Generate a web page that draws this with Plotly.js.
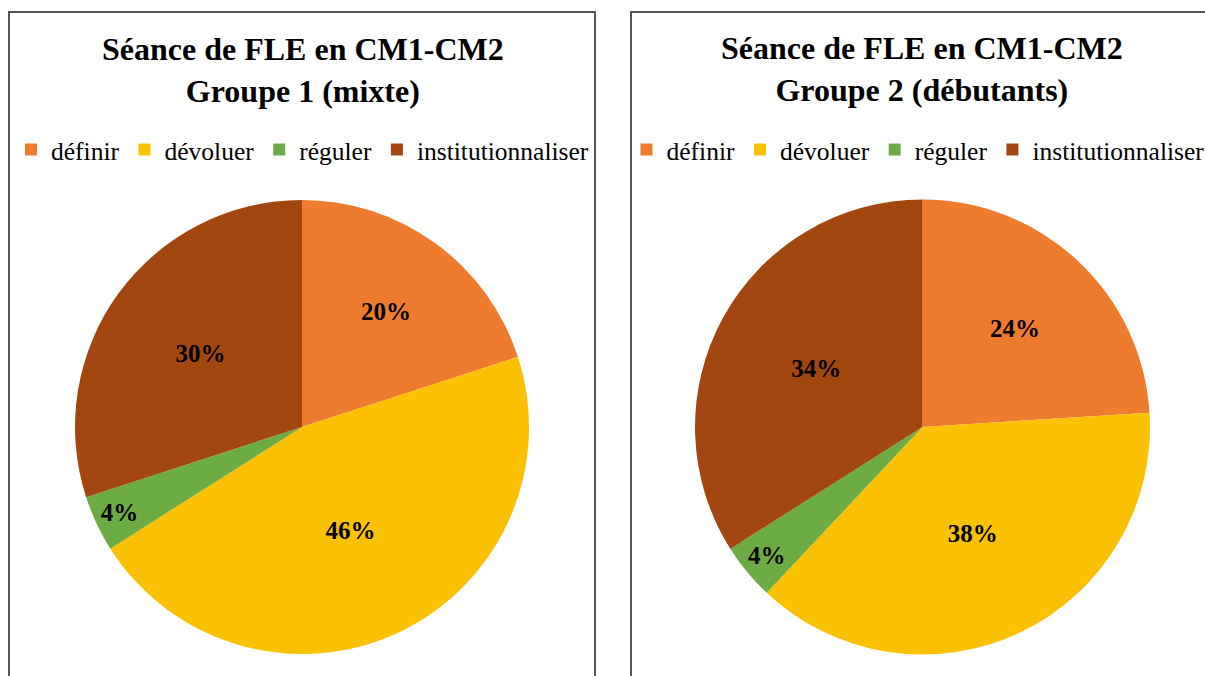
<!DOCTYPE html>
<html>
<head>
<meta charset="utf-8">
<script src="https://cdn.plot.ly/plotly-3.0.1.min.js"></script>
<style>
html,body{margin:0;padding:0;background:#fff;}
#chart{width:1205px;height:676px;}
</style>
</head>
<body>
<div id="chart"></div>
<script>
// ---- data ----
const categories = ["définir", "dévoluer", "réguler", "institutionnaliser"];
const group1Values = [20, 46, 4, 30];
const group2Values = [24, 38, 4, 34];
const titleLine1 = "Séance de FLE en CM1-CM2";
const group1Title = "Groupe 1 (mixte)";
const group2Title = "Groupe 2 (débutants)";
const sliceColors = ["#EF7B2F", "#FBC102", "#6DAC45", "#A2470F"];

const W = 1205, H = 676;
const px = v => v / W;
const py = v => 1 - v / H;

const serif = "Liberation Serif";

function pieTrace(values, domainX, legendId, group) {
  return {
    type: "pie",
    labels: categories,
    values: values,
    sort: false,
    direction: "clockwise",
    rotation: 0,
    domain: {x: domainX, y: [py(655), py(199)]},
    marker: {colors: sliceColors, line: {width: 0}},
    texttemplate: "%{value}%",
    textposition: "inside",
    insidetextorientation: "horizontal",
    textfont: {family: serif, size: 25, color: "#000", weight: "bold"},
    hoverinfo: "label+percent",
    legend: legendId,
    legendgroup: group,
    showlegend: true
  };
}

const data = [
  pieTrace(group1Values, [px(75), px(529)], "legend", "g1"),
  pieTrace(group2Values, [px(695), px(1150)], "legend2", "g2")
];

function legendCfg(xc) {
  return {
    orientation: "h",
    x: xc, xanchor: "center",
    y: py(150), yanchor: "middle",
    font: {family: serif, size: 25.5, color: "#000"},
    bgcolor: "rgba(0,0,0,0)",
    itemclick: false, itemdoubleclick: false,
    traceorder: "normal",
    tracegroupgap: 0
  };
}

const layout = {
  width: W, height: H,
  margin: {l: 0, r: 0, t: 0, b: 0, autoexpand: false},
  font: {family: serif, size: 26, color: "#000"},
  paper_bgcolor: "#fff",
  plot_bgcolor: "#fff",
  showlegend: true,
  legend: legendCfg(px(302.5)),
  legend2: legendCfg(px(918)),
  annotations: [
    {text: "<b>" + titleLine1 + "<br>" + group1Title + "</b>", x: px(303), y: py(70),
     xref: "paper", yref: "paper", xanchor: "center", yanchor: "middle", showarrow: false,
     font: {family: serif, size: 32, color: "#000"}},
    {text: "<b>" + titleLine1 + "<br>" + group2Title + "</b>", x: px(922), y: py(69),
     xref: "paper", yref: "paper", xanchor: "center", yanchor: "middle", showarrow: false,
     font: {family: serif, size: 32, color: "#000"}}
  ],
  shapes: [
    {type: "rect", xref: "paper", yref: "paper", x0: px(9), x1: px(595), y0: py(690), y1: py(12),
     line: {color: "#555", width: 2}, fillcolor: "rgba(0,0,0,0)"},
    {type: "rect", xref: "paper", yref: "paper", x0: px(631), x1: px(1220), y0: py(690), y1: py(12),
     line: {color: "#555", width: 2}, fillcolor: "rgba(0,0,0,0)"}
  ]
};

Plotly.newPlot("chart", data, layout, {displayModeBar: false, staticPlot: true});
</script>
</body>
</html>
